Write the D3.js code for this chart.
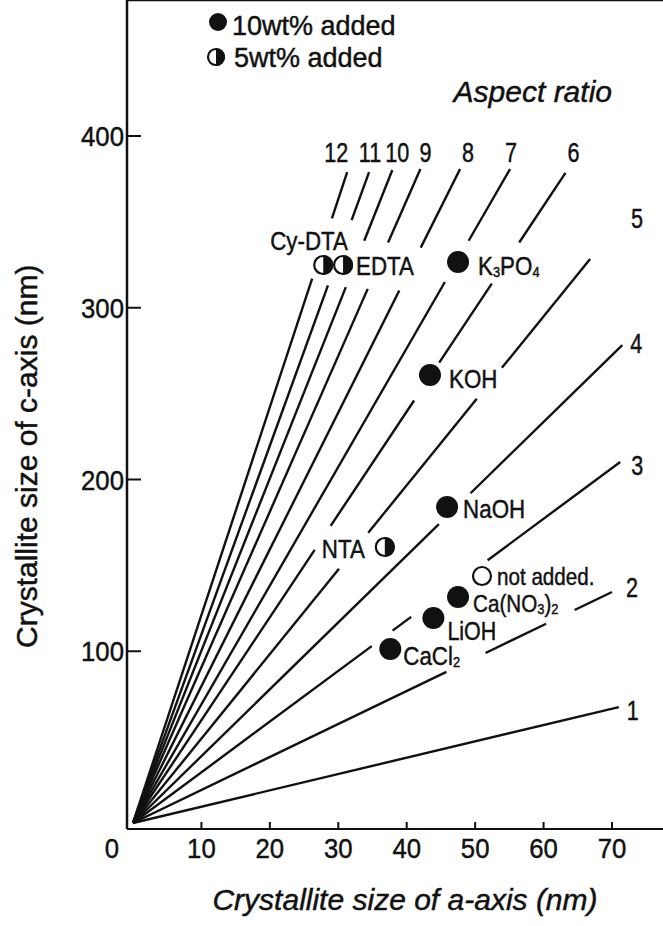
<!DOCTYPE html>
<html>
<head>
<meta charset="utf-8">
<script src="https://d3js.org/d3.v7.min.js"></script>
<style>
  body { margin: 0; background: #fff; }
  text { fill: #111; stroke: #111; stroke-width: 0.45px; font-family: "Liberation Sans", Arial, sans-serif; }
</style>
</head>
<body>
<svg width="663" height="926"></svg>
<script>
// aspect ratio guide lines (c/a), and the point (a, c in nm) where each one stops
var rayLabels = ["1", "2", "3", "4", "5", "6", "7", "8", "9", "10", "11", "12"];
var rayEndA = [71.0, 70.0, 71.2, 71.5, 66.8, 63.2, 55.1, 47.8, 42.0, 37.9, 34.5, 31.3];
var rayEndC = [67.5, 134.5, 210.2, 278.3, 328.4, 378.5, 380.8, 380.8, 380.8, 380.2, 379.0, 379.0];
// c ranges where a line is broken for a label
var rayGaps = [[], [[116, 124], [88, 99]], [[120, 153], [103, 112]], [[174, 192]],
  [[247, 265], [148, 169]], [[314, 338], [246, 268], [159, 173]], [[315, 339]],
  [[310, 335]], [[311, 338]], [[312, 339]], [[313, 351]], [[317, 352]]];

// measured crystallite sizes
var pointNames = ["Cy-DTA", "EDTA", "K3PO4", "KOH", "NaOH", "NTA", "not added", "Ca(NO3)2", "LiOH", "CaCl2"];
var pointA = [27.8, 30.7, 47.5, 43.4, 45.9, 36.8, 51.0, 47.5, 43.9, 37.6];
var pointC = [324.9, 324.9, 326.6, 260.8, 184.0, 160.7, 143.8, 131.6, 119.4, 101.3];
var pointKind = ["half", "half", "full", "full", "full", "half", "open", "full", "full", "full"];

var xTicks = [0, 10, 20, 30, 40, 50, 60, 70];
var yTicks = [100, 200, 300, 400];

var svg = d3.select("svg");

var x = d3.scaleLinear().domain([0, 70]).range([133, 612]);
var y = d3.scaleLinear().domain([0, 400]).range([823, 136]);

var left = x(0) - 6, bottom = y(0) + 6, top = 72;

// label placement (px offsets from the mark, font size)
var labelOff = {
  "Cy-DTA": [-53, -15, "start", 26], "EDTA": [13, 10, "start", 26], "K3PO4": [20, 13, "start", 26],
  "KOH": [19, 13, "start", 26], "NaOH": [16, 11, "start", 26], "NTA": [-20, 11, "end", 26],
  "not added": [15, 9, "start", 24], "Ca(NO3)2": [15, 15, "start", 24], "LiOH": [14, 22, "start", 25],
  "CaCl2": [13, 16, "start", 26]
};
var rayLabelOff = [[14, 13], [20, 5], [17, 13], [14, 8], [47, -31], [8, -11], [1, -7],
  [8, -7], [5, -7], [5, -8], [1, -10], [-11, -10]];

// condensed text: regular face squeezed sideways
function ntext(px, py, anchor, size, sx) {
  return svg.append("text")
    .attr("transform", "translate(" + px + "," + py + ") scale(" + sx + ",1)")
    .attr("text-anchor", anchor)
    .style("font-size", size + "px");
}

// frame
svg.append("line").attr("x1", left).attr("y1", top).attr("x2", left).attr("y2", bottom)
  .attr("stroke", "#111").attr("stroke-width", 2.5);
svg.append("line").attr("x1", left).attr("y1", top).attr("x2", 663).attr("y2", top + 3)
  .attr("stroke", "#111").attr("stroke-width", 2.5);
svg.append("line").attr("x1", left).attr("y1", bottom).attr("x2", 663).attr("y2", bottom)
  .attr("stroke", "#111").attr("stroke-width", 2);

// y ticks (inside)
svg.selectAll(".yt").data(yTicks).enter().append("line")
  .attr("x1", left).attr("x2", left + 14)
  .attr("y1", function(d) { return y(d); }).attr("y2", function(d) { return y(d); })
  .attr("stroke", "#111").attr("stroke-width", 2);
yTicks.forEach(function(d) {
  ntext(left - 3, y(d) + 10, "end", 28, 0.92).text(d);
});

// x ticks
svg.selectAll(".xt").data(xTicks.slice(1)).enter().append("line")
  .attr("x1", function(d) { return x(d); }).attr("x2", function(d) { return x(d); })
  .attr("y1", bottom).attr("y2", bottom - 7)
  .attr("stroke", "#111").attr("stroke-width", 2);
xTicks.forEach(function(d) {
  ntext(d === 0 ? x(d) - 21 : x(d), 858, "middle", 28, 0.92).text(d);
});

// axis titles
svg.append("text")
  .attr("x", 405).attr("y", 910).attr("text-anchor", "middle")
  .style("font-size", "30px").style("font-style", "italic")
  .text("Crystallite size of a-axis (nm)");
svg.append("text")
  .attr("transform", "translate(37,648) rotate(-90)")
  .style("font-size", "30px")
  .text("Crystallite size of c-axis (nm)");

// aspect ratio lines
var line = d3.line().x(function(d) { return x(d[0]); }).y(function(d) { return y(d[1]); });
rayLabels.forEach(function(lab, i) {
  var k = rayEndA[i] / rayEndC[i];
  var cuts = [0];
  rayGaps[i].slice().sort(function(a, b) { return a[0] - b[0]; }).forEach(function(g) {
    cuts.push(g[0], g[1]);
  });
  cuts.push(rayEndC[i]);
  for (var j = 0; j < cuts.length; j += 2) {
    svg.append("path")
      .attr("d", line([[cuts[j] * k, cuts[j]], [cuts[j + 1] * k, cuts[j + 1]]]))
      .attr("stroke", "#111").attr("stroke-width", 2.4).attr("fill", "none");
  }
  ntext(x(rayEndA[i]) + rayLabelOff[i][0], y(rayEndC[i]) + rayLabelOff[i][1], "middle", 27, 0.8)
    .text(lab);
});

svg.append("text")
  .attr("x", 612).attr("y", 102).attr("text-anchor", "end")
  .style("font-size", "30px").style("font-style", "italic")
  .text("Aspect ratio");

// symbols
function marker(cx, cy, r, kind) {
  if (kind === "full") {
    svg.append("circle").attr("cx", cx).attr("cy", cy).attr("r", r).attr("fill", "#111");
    return;
  }
  svg.append("circle").attr("cx", cx).attr("cy", cy).attr("r", r - 1)
    .attr("fill", "#fff").attr("stroke", "#111").attr("stroke-width", 2.2);
  if (kind === "half") {
    svg.append("path")
      .attr("d", "M" + cx + "," + (cy - r) + " A" + r + "," + r + " 0 0,1 " + cx + "," + (cy + r) + " Z")
      .attr("fill", "#111");
  }
}

var sub = { "K3PO4": ["K", "3", "PO", "4"], "Ca(NO3)2": ["Ca(NO", "3", ")", "2"], "CaCl2": ["CaCl", "2"] };

pointNames.forEach(function(name, i) {
  var px = x(pointA[i]), py = y(pointC[i]);
  marker(px, py, pointKind[i] === "full" ? 11 : 10, pointKind[i]);
  var o = labelOff[name];
  var t = ntext(px + o[0], py + o[1], o[2], o[3], 0.86);
  if (sub[name]) {
    sub[name].forEach(function(s, j) {
      var isSub = j % 2 === 1;
      t.append("tspan").text(s)
        .style("font-size", isSub ? "15px" : o[3] + "px")
        .attr("dy", j === 0 ? 0 : (isSub ? 2 : -2));
    });
  } else {
    t.text(name === "not added" ? "not added." : name);
  }
});

// legend
marker(218, 22, 9, "full");
svg.append("text").attr("x", 232).attr("y", 35)
  .style("font-size", "27px").text("10wt% added");
marker(216, 57, 9, "half");
svg.append("text").attr("x", 234).attr("y", 67)
  .style("font-size", "27px").text("5wt% added");
</script>
</body>
</html>
